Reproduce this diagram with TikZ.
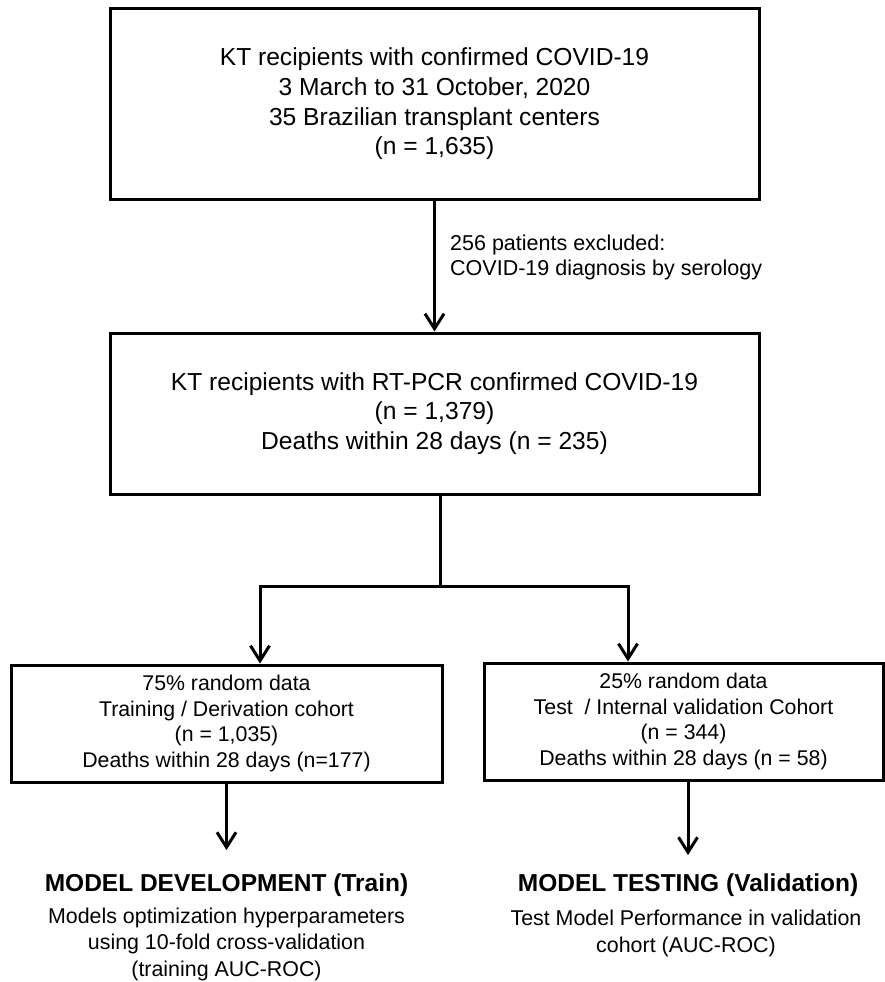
\documentclass[tikz,border=0pt]{standalone}
\usepackage{fontspec}
\setmainfont{Liberation Sans}
\usetikzlibrary{arrows.meta}
\begin{document}
\begin{tikzpicture}[x=1pt,y=-1pt,
  box/.style={draw, line width=3pt, align=center, inner sep=0pt},
  big/.style={font=\fontsize{24.6}{29.7}\selectfont},
  small/.style={font=\fontsize{21.3}{25.7}\selectfont},
  ttl/.style={font=\fontsize{24.5}{29}\selectfont\bfseries, inner sep=0pt},
  note/.style={font=\fontsize{21.4}{26.5}\selectfont, align=center, inner sep=0pt},
  line/.style={line width=3pt, line join=miter},
  arr/.style={line, -{Straight Barb[length=15pt,width=19pt]}}]
\fill[white] (0,0) rectangle (885,982);
\useasboundingbox (0,0) rectangle (885,982);

\node[box,big,minimum width=649pt,minimum height=190pt] (b1) at (434.5,104)
  {KT recipients with confirmed COVID-19\\3 March to 31 October, 2020\\35 Brazilian transplant centers\\(n = 1,635)};
\node[box,big,minimum width=649pt,minimum height=161pt] (b2) at (434.5,413.5)
  {KT recipients with RT-PCR confirmed COVID-19\\(n = 1,379)\\Deaths within 28 days (n = 235)};
\node[box,small,minimum width=431pt,minimum height=117pt] (bL) at (226.5,723.5)
  {75\% random data\\Training / Derivation cohort\\(n = 1,035)\\Deaths within 28 days (n=177)};
\node[box,small,minimum width=399pt,minimum height=117pt] (bR) at (683.5,721.5)
  {25\% random data\\Test\ \ / Internal validation Cohort\\(n = 344)\\Deaths within 28 days (n = 58)};

\node[note, font=\fontsize{21.5}{25}\selectfont, align=left, anchor=west] (ex) at (450,257.5)
  {256 patients excluded:\\COVID-19 diagnosis by serology};

\node[ttl, outer ysep=23.5pt] (tL) at (226.5,885) {MODEL DEVELOPMENT (Train)};
\node[note] (nL) at (226.5,944) {Models optimization hyperparameters\\using 10-fold cross-validation\\(training AUC-ROC)};
\node[ttl, outer ysep=18.5pt] (tR) at (688,885) {MODEL TESTING (Validation)};
\node[note] (nR) at (686,933.5) {Test Model Performance in validation\\cohort (AUC-ROC)};

\coordinate (split) at (440,586);

\draw[arr] (b1.south) -- (b2.north);
\draw[line] ([xshift=5.5pt]b2.south) -- (split);
\draw[arr] (split) -| ([xshift=33.5pt]bL.north);
\draw[arr] (split) -| ([xshift=-55.5pt]bR.north);
\draw[arr] (bL.south -| tL) -- (tL.north);
\draw[arr] (bR.south -| tR) -- (tR.north);
\end{tikzpicture}
\end{document}
